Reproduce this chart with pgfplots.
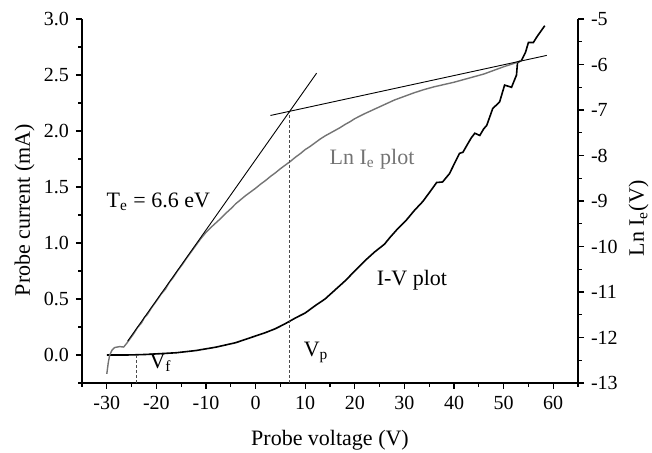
\documentclass[border=0pt]{standalone}
\usepackage{fontspec}
\setmainfont{Liberation Serif}
\usepackage{pgfplots}
\pgfplotsset{compat=1.18}
\begin{document}
\begin{tikzpicture}
\pgfplotsset{
  common/.style={
    width=248pt, height=182pt, scale only axis,
    xmin=-35, xmax=65,
    tick align=outside,
    major tick length=3pt, minor tick length=1.8pt,
    axis line style={-, line width=0.7pt},
    every tick/.style={black, line width=0.6pt},
    tick label style={font=\fontsize{10}{12}\selectfont},
    label style={font=\fontsize{11}{13}\selectfont},
    /pgf/number format/assume math mode=true,
  }
}
\begin{axis}[common,
  axis x line*=bottom, axis y line*=left,
  ymin=-0.25, ymax=3,
  xtick={-30,-20,...,60}, minor xtick={-35,-25,...,65},
  ytick={0,0.5,...,3}, minor ytick={-0.25,0.25,...,2.75},
  yticklabel style={/pgf/number format/fixed, /pgf/number format/fixed zerofill, /pgf/number format/precision=1},
  xlabel={Probe voltage (V)}, ylabel={Probe current (mA)},
  xlabel style={at={(axis description cs:0.5,-0.173)}, anchor=base},
  ylabel style={at={(axis description cs:-0.105,0.475)}, anchor=base},
]
% I-V curve
\addplot[black, line width=0.8pt] coordinates {
(-30,0) (-28,0) (-26,0) (-24,0.002) (-22,0.005) (-20,0.01) (-18,0.015) (-16,0.02)
(-14,0.03) (-12,0.04) (-10,0.055) (-8,0.07) (-6,0.09) (-4,0.11) (-2,0.14) (0,0.17)
(2,0.20) (4,0.235) (6,0.28) (8,0.33) (10,0.375) (12,0.44) (14,0.50) (16,0.58) (18,0.66)
(20,0.75) (22,0.84) (24,0.92) (26,0.99) (27,1.045) (28.5,1.12) (30.4,1.205) (32,1.29)
(33.7,1.37) (35.2,1.46) (36.5,1.54) (37.7,1.545) (39.1,1.62) (40.2,1.72) (41.1,1.80)
(41.8,1.81) (42.7,1.88) (43.5,1.94) (44.2,1.98) (45.2,1.96) (46.0,2.02) (46.6,2.05)
(47.8,2.20) (49.2,2.26) (50.2,2.41) (51.6,2.39) (52.6,2.50) (52.8,2.61) (53.6,2.63)
(54.4,2.70) (55.0,2.79) (56.0,2.79) (56.7,2.84) (58.3,2.94)
};
% V_f marker line
\addplot[black!70, dash pattern=on 1.5pt off 1pt, line width=0.4pt] coordinates {(-24,-0.25) (-24,0)};
\node[anchor=base, font=\fontsize{11}{13}\selectfont] at (axis cs:-19.6,1.32) {T\textsubscript{e} = 6.6 eV};
\node[anchor=base west, text=black!55, font=\fontsize{11}{13}\selectfont] at (axis cs:13.5,1.70) {Ln I\textsubscript{e} plot};
\node[anchor=base west, font=\fontsize{11}{13}\selectfont] at (axis cs:23,0.62) {I-V plot};
\node[anchor=base west, font=\fontsize{11}{13}\selectfont] at (axis cs:-22.8,-0.12) {V\textsubscript{f}};
\node[anchor=base west, font=\fontsize{11}{13}\selectfont] at (axis cs:8.3,-0.01) {V\textsubscript{p}};
\end{axis}
\begin{axis}[common,
  axis x line=none, axis y line*=right,
  ymin=-13, ymax=-5,
  ytick={-13,-12,...,-5}, minor ytick={-12.5,-11.5,...,-5.5},
  ylabel={Ln I\textsubscript{e}(V)},
  ylabel style={at={(axis description cs:1.133,0.452)}, anchor=base},
]
% Ln Ie curve
\addplot[black!55, line width=0.7pt] coordinates {
(-30,-12.80) (-29.7,-12.55) (-29.4,-12.38) (-28.9,-12.27) (-28.4,-12.22) (-27.4,-12.20)
(-26.6,-12.21) (-26.0,-12.13) (-25.4,-12.04) (-24.6,-11.92) (-23.8,-11.78) (-23.0,-11.68)
(-22.4,-11.56) (-21.8,-11.49) (-21.0,-11.35) (-20.0,-11.20) (-19.0,-11.04) (-18.2,-10.94)
(-17.4,-10.79) (-16.6,-10.68) (-15.7,-10.53) (-14.8,-10.40) (-14.0,-10.27) (-13.0,-10.12)
(-12.0,-9.97) (-11.0,-9.82) (-10.0,-9.69) (-9.0,-9.58) (-8.0,-9.48) (-7.0,-9.38)
(-6.0,-9.27) (-5.0,-9.17) (-4.0,-9.06) (-3.0,-8.97) (-2.0,-8.88) (-1.0,-8.80) (0.0,-8.72)
(1.0,-8.63) (2.0,-8.55) (3.0,-8.46) (4.0,-8.38) (5.0,-8.29) (6.0,-8.21) (7.0,-8.13)
(8.0,-8.04) (9.0,-7.96) (10.0,-7.87) (11.0,-7.80) (12.0,-7.72) (13.0,-7.64) (14.0,-7.57)
(15.0,-7.51) (16.0,-7.45) (17.0,-7.39) (18.0,-7.32) (19.0,-7.26) (20.0,-7.19) (22.0,-7.08)
(24.0,-6.98) (26.0,-6.88) (28.0,-6.78) (30.0,-6.70) (32.0,-6.62) (34.0,-6.55) (36.0,-6.49)
(38.0,-6.44) (40.0,-6.39) (42.0,-6.33) (44.0,-6.27) (46.0,-6.21) (48.0,-6.13) (50.0,-6.05)
(52.0,-5.98) (53.6,-5.91)
};
% tangent lines
\addplot[black, line width=0.45pt] coordinates {(-25.8,-12.08) (12.3,-6.19)};
\addplot[black, line width=0.45pt] coordinates {(3.0,-7.12) (58.7,-5.80)};
% V_p marker line
\addplot[black!70, dash pattern=on 1.5pt off 1pt, line width=0.4pt] coordinates {(6.8,-13) (6.8,-7.04)};
\end{axis}
\pgfresetboundingbox
\useasboundingbox (-41pt,-35pt) rectangle (285pt,191.5pt);
\end{tikzpicture}
\end{document}
